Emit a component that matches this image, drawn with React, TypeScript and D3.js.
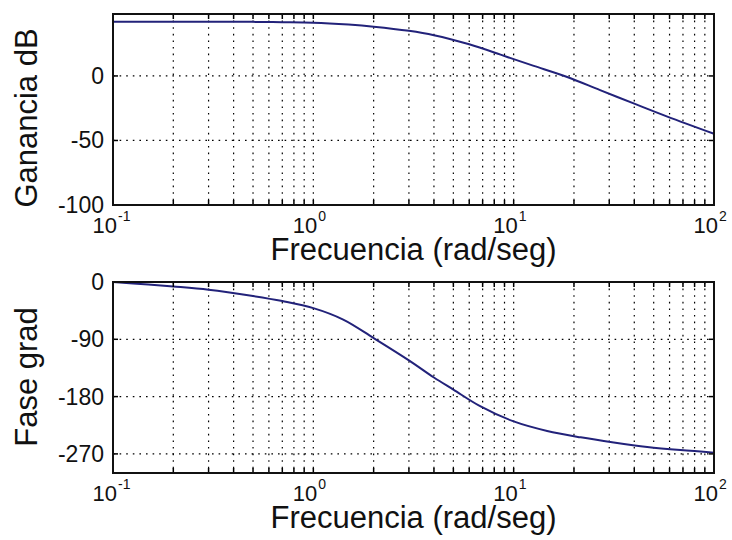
import React from 'react';
import * as d3 from 'd3';

// ---- data ----
const gainFreq = [0.1, 0.2, 0.5, 0.7, 1.0, 1.5, 2.0, 3.0, 4.0, 6.0, 8.6, 10, 12.6, 18.5, 27, 40, 58.5, 100];
const gainDb = [42.0, 42.0, 41.9, 41.7, 41.3, 39.8, 38.2, 35.0, 31.6, 24.5, 16.5, 13.0, 7.8, -0.8, -11.0, -21.5, -31.5, -44.8];

const phaseFreq = [0.1, 0.15, 0.2, 0.3, 0.5, 0.7, 1.0, 1.41, 2.0, 3.0, 4.0, 5.0, 6.8, 10, 14.7, 21.6, 31.6, 46.4, 68, 100];
const phaseDeg = [0, -4, -7, -12, -22, -30, -41, -59, -88, -123, -150, -169, -195, -219, -234, -244, -252, -259, -264, -268];

const gainTicks = [0, -50, -100];
const phaseTicks = [0, -90, -180, -270];
const xTickExps = [-1, 0, 1, 2];
const gainDomain = [-100, 48];
const phaseDomain = [-300, 0];
const xLabelText = 'Frecuencia (rad/seg)';
const gainLabel = 'Ganancia dB';
const phaseLabel = 'Fase grad';

const FONT = '"Liberation Sans", Arial, Helvetica, sans-serif';
const LINE = '#22227a';
const X0 = 113;
const X1 = 714;

const xScale = d3.scaleLog().domain([0.1, 100]).range([X0, X1]);
const minorVals: number[] = [];
for (let e = -1; e <= 1; e++) {
  for (let m = 1; m <= 9; m++) minorVals.push(m * Math.pow(10, e));
}
minorVals.push(100);

type PanelProps = {
  top: number;
  bottom: number;
  domain: number[];
  ticks: number[];
  freq: number[];
  vals: number[];
  ylabel: string;
  ylabelY: number;
};

function Panel({ top, bottom, domain, ticks, freq, vals, ylabel, ylabelY }: PanelProps) {
  const y = d3.scaleLinear().domain(domain).range([bottom, top]);
  const line = d3
    .line<number>()
    .x((_, i) => xScale(freq[i]))
    .y((d) => y(d))
    .curve(d3.curveCatmullRom.alpha(0.5));
  const tl = 5;
  return (
    <g>
      {/* grid */}
      {minorVals
        .filter((v) => v > 0.1 && v < 100)
        .map((v, i) => (
          <line key={'gx' + i} x1={xScale(v)} x2={xScale(v)} y1={top} y2={bottom}
            stroke="#000" strokeWidth={1.2} strokeDasharray="1.6 5" />
        ))}
      {ticks
        .filter((t) => y(t) > top + 1 && y(t) < bottom - 1)
        .map((t, i) => (
          <line key={'gy' + i} x1={X0} x2={X1} y1={y(t)} y2={y(t)}
            stroke="#000" strokeWidth={1.2} strokeDasharray="1.6 5" />
        ))}
      {/* curve */}
      <path d={line(vals) || ''} fill="none" stroke={LINE} strokeWidth={2} />
      {/* x ticks */}
      {minorVals.map((v, i) => (
        <g key={'tx' + i}>
          <line x1={xScale(v)} x2={xScale(v)} y1={bottom} y2={bottom - tl} stroke="#000" strokeWidth={1.5} />
          <line x1={xScale(v)} x2={xScale(v)} y1={top} y2={top + tl} stroke="#000" strokeWidth={1.5} />
        </g>
      ))}
      {/* y ticks */}
      {ticks.map((t, i) => (
        <g key={'ty' + i}>
          <line x1={X0} x2={X0 + tl} y1={y(t)} y2={y(t)} stroke="#000" strokeWidth={1.5} />
          <line x1={X1} x2={X1 - tl} y1={y(t)} y2={y(t)} stroke="#000" strokeWidth={1.5} />
          <text x={X0 - 9} y={y(t) + 8} textAnchor="end" fontSize={23} fontFamily={FONT} fill="#111">
            {t}
          </text>
        </g>
      ))}
      {/* frame */}
      <rect x={X0} y={top} width={X1 - X0} height={bottom - top} fill="none" stroke="#111" strokeWidth={2} />
      {/* x tick labels: base and exponent */}
      {xTickExps.map((e) => {
        const x = xScale(Math.pow(10, e));
        return (
          <g key={'xl' + e}>
            <text x={x + 4} y={bottom + 28} textAnchor="end" fontSize={22} fontFamily={FONT} fill="#111">
              10
            </text>
            <text x={x + 5} y={bottom + 16} textAnchor="start" fontSize={14} fontFamily={FONT} fill="#111">
              {e}
            </text>
          </g>
        );
      })}
      {/* x label */}
      <text x={(X0 + X1) / 2} y={bottom + 55} textAnchor="middle" fontSize={31} fontFamily={FONT} fill="#111">
        {xLabelText}
      </text>
      {/* y label */}
      <text transform={`translate(37, ${ylabelY}) rotate(-90)`} textAnchor="middle" fontSize={31}
        fontFamily={FONT} fill="#111">
        {ylabel}
      </text>
    </g>
  );
}

export default function App() {
  return (
    <svg width={732} height={540} style={{ position: 'absolute', left: 0, top: 0, background: '#fff' }}>
      <rect x={0} y={0} width={732} height={540} fill="#fff" />
      <Panel top={14} bottom={205} domain={gainDomain} ticks={gainTicks} freq={gainFreq} vals={gainDb}
        ylabel={gainLabel} ylabelY={118} />
      <Panel top={282} bottom={473} domain={phaseDomain} ticks={phaseTicks} freq={phaseFreq} vals={phaseDeg}
        ylabel={phaseLabel} ylabelY={377} />
    </svg>
  );
}
